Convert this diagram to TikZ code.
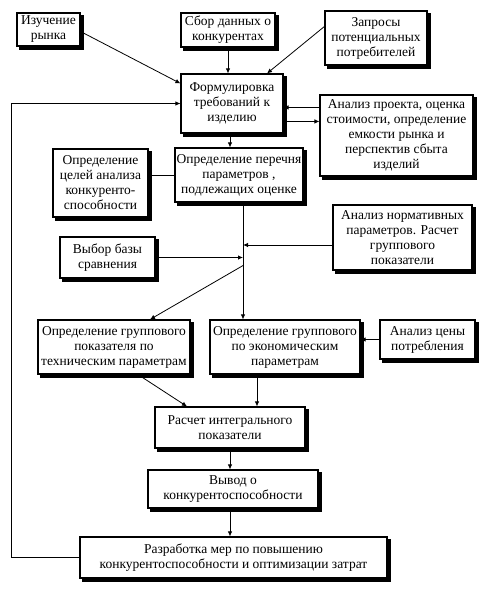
\documentclass[tikz,border=0pt]{standalone}
\usepackage{fontspec}
\setmainfont{Liberation Serif}
\usetikzlibrary{arrows.meta,calc,backgrounds}
\tikzset{
  blk/.style={draw, line width=1.1pt, fill=white, align=center, inner sep=0pt,
    font=\fontsize{13.5}{15}\selectfont,
    append after command={
      \pgfextra{\begin{pgfonlayer}{background}
        \fill[black] ([xshift=3pt,yshift=-3pt]\tikzlastnode.south west) rectangle ([xshift=3pt,yshift=-3pt]\tikzlastnode.north east);
      \end{pgfonlayer}}}},
  sz/.style 2 args={minimum width=#1pt, minimum height=#2pt},
  arr/.style={line width=0.8pt, -{Latex[length=5pt,width=4.5pt]}},
  ln/.style={line width=0.8pt}
}
\begin{document}
\begin{tikzpicture}[x=1pt,y=-1pt]
\useasboundingbox (0,0) rectangle (482,589);
\node[blk,sz={63}{33}] (izuch) at (48.5,29.5) {Изучение\\рынка};
\node[blk,sz={94}{34}] (sbor) at (228,30) {Сбор данных о\\конкурентах};
\node[blk,sz={102}{54}] (zapr) at (376,38) {Запросы\\потенциальных\\потребителей};
\node[blk,sz={102}{59}] (form) at (232,103.5) {Формулировка\\требований к\\изделию};
\node[blk,sz={153}{81}] (analiz) at (396.5,135.5) {Анализ проекта, оценка\\стоимости, определение\\емкости рынка и\\перспектив сбыта\\изделий};
\node[blk,sz={95}{68}] (celi) at (100.5,183) {Определение\\целей анализа\\конкуренто-\\способности};
\node[blk,sz={128}{54}] (perech) at (239,175) {Определение перечня\\параметров ,\\подлежащих оценке};
\node[blk,sz={139}{65}] (norm) at (402.5,237.5) {Анализ нормативных\\параметров. Расчет\\группового\\показатели};
\node[blk,sz={95}{41}] (baza) at (107.5,257.5) {Выбор базы\\сравнения};
\node[blk,sz={152}{54}] (tech) at (114,347) {Определение группового\\показателя по\\техническим параметрам};
\node[blk,sz={150}{54}] (econ) at (285,347) {Определение группового\\по экономическим\\параметрам};
\node[blk,sz={95}{39}] (cena) at (427.5,339.5) {Анализ цены\\потребления};
\node[blk,sz={150}{41}] (rasch) at (230,427.5) {Расчет интегрального\\показатели};
\node[blk,sz={170}{38}] (vyvod) at (233,489) {Вывод о\\конкурентоспособности};
\node[blk,sz={307}{41}] (razr) at (233.5,557.5) {Разработка мер по повышению\\конкурентоспособности и оптимизации затрат};

% top inputs
\draw[arr] ($(izuch.east)+(0,2)$) -- ($(form.north west)+(0,10)$);
\draw[arr] (sbor.south) -- (sbor.south |- form.north);
\draw[arr] ($(zapr.north west)+(0,16)$) -- ($(form.north)+(35,0)$);
% form <-> analiz
\coordinate (a1) at ($(analiz.north west)+(0,13)$);
\draw[arr] (a1) -- (a1 -| form.east);
\coordinate (a2) at ($(analiz.north west)+(0,27)$);
\draw[arr] (a2 -| form.east) -- (a2);
% form -> perech
\draw[arr] ($(form.south)+(-2,0)$) coordinate (f1) -- (f1 |- perech.north);
% celi -- perech
\draw[ln] (perech.west) -- (perech.west -| celi.east);
% trunk
\coordinate (ttop) at ($(perech.south)+(4,0)$);
\draw[arr] (ttop) -- (ttop |- econ.north);
\coordinate (n1) at ($(norm.west)+(0,7.5)$);
\draw[arr] (n1) -- (n1 -| ttop);
\draw[arr] (baza.east) -- (baza.east -| ttop);
\draw[arr] ($(ttop)+(0,63)$) -- ($(tech.north)+(36,0)$);
\draw[arr] (cena.west) -- (cena.west -| econ.east);
% to rasch
\draw[arr] ($(tech.south)+(24,0)$) -- ($(rasch.north)+(-43,0)$);
\coordinate (e1) at ($(econ.south)+(-28,0)$);
\draw[arr] (e1) -- (e1 |- rasch.north);
\draw[arr] (rasch.south) -- (rasch.south |- vyvod.north);
\draw[arr] (rasch.south |- vyvod.south) -- (rasch.south |- razr.north);
% feedback loop
\draw[arr] (razr.west) -- ++(-68,0) |- (form.west);
\end{tikzpicture}
\end{document}
